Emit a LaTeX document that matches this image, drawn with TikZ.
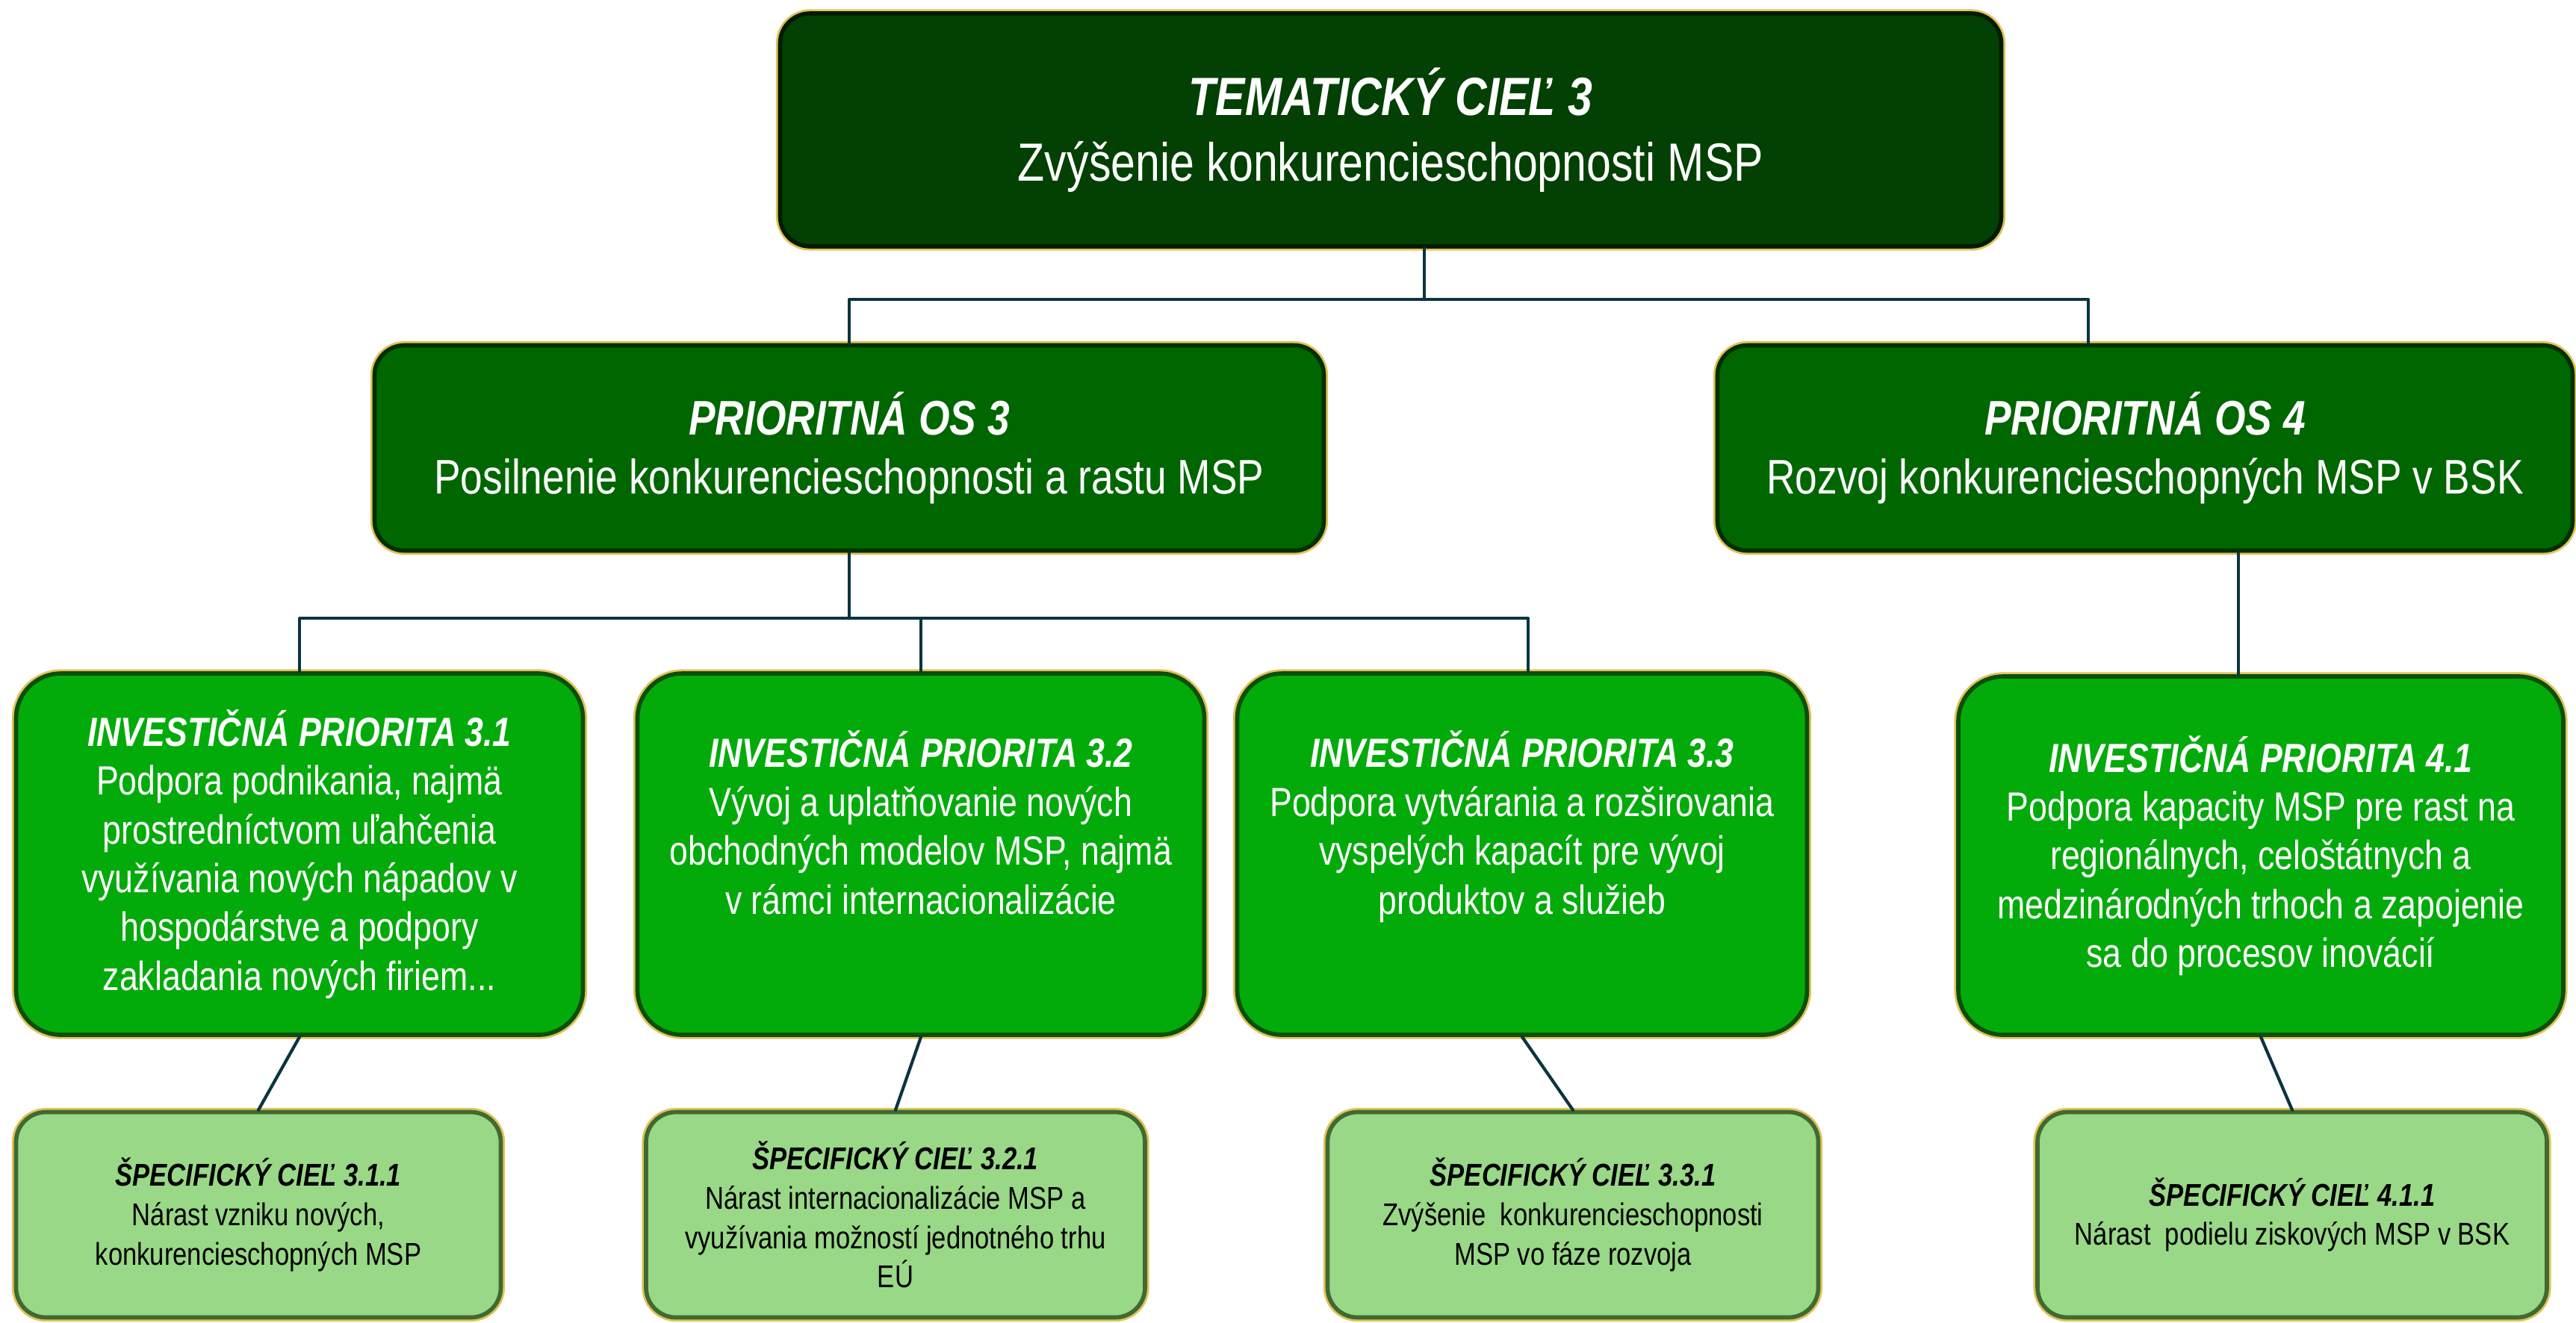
\documentclass[tikz,border=0pt]{standalone}
\usepackage{fontspec}
\setmainfont{Liberation Sans}[FakeStretch=0.82]
\definecolor{temagreen}{HTML}{034003}
\definecolor{temaedge}{HTML}{011C01}
\definecolor{osgreen}{HTML}{006600}
\definecolor{osedge}{HTML}{003000}
\definecolor{ipgreen}{HTML}{02AB0A}
\definecolor{ipedge}{HTML}{0B4F0B}
\definecolor{scgreen}{HTML}{99D886}
\definecolor{scedge}{HTML}{3F6A30}
\definecolor{glow}{HTML}{E2C25A}
\definecolor{linkcol}{HTML}{0B3540}
\begin{document}
\begin{tikzpicture}[line join=round, line cap=round,
  box/.style={rounded corners=4mm, align=center, inner sep=0pt, line width=1.6pt,
    preaction={draw=glow, line width=3.2pt}},
  tema/.style={box, fill=temagreen, draw=temaedge, text=white, minimum width=16.35cm,
    minimum height=3.12cm, font=\fontsize{20.5}{25}\selectfont},
  os/.style={box, fill=osgreen, draw=osedge, text=white, minimum height=2.75cm,
    font=\fontsize{18.5}{22.5}\selectfont},
  ip/.style={box, rounded corners=6mm, fill=ipgreen, draw=ipedge, text=white,
    minimum height=4.84cm, font=\fontsize{15.5}{18.6}\selectfont},
  sc/.style={box, fill=scgreen, draw=scedge, text=black, minimum height=2.75cm,
    font=\fontsize{12}{15}\selectfont},
  link/.style={draw=linkcol, line width=1.2pt}]
\useasboundingbox (0,0) rectangle (34.49,-17.71);
% tematicky ciel
\node[tema] (tema) at (18.62,-1.74) {{\bfseries\itshape TEMATICKÝ CIEĽ 3}\\Zvýšenie konkurencieschopnosti MSP};
% prioritne osi
\node[os, minimum width=12.71cm] (po3) at (11.37,-6.00) {{\bfseries\itshape PRIORITNÁ OS 3}\\Posilnenie konkurencieschopnosti a rastu MSP};
\node[os, minimum width=11.45cm] (po4) at (28.72,-6.00) {{\bfseries\itshape PRIORITNÁ OS 4}\\Rozvoj konkurencieschopných MSP v BSK};
% investicne priority
\node[ip, minimum width=7.59cm] (ip31) at (4.01,-11.44) {{\bfseries\itshape INVESTIČNÁ PRIORITA 3.1}\\Podpora podnikania, najmä\\prostredníctvom uľahčenia\\využívania nových nápadov v\\hospodárstve a podpory\\zakladania nových firiem...};
\node[ip, minimum width=7.59cm] (ip32) at (12.33,-11.44) {{\bfseries\itshape INVESTIČNÁ PRIORITA 3.2}\\Vývoj a uplatňovanie nových\\obchodných modelov MSP, najmä\\v rámci internacionalizácie\\\strut};
\node[ip, minimum width=7.63cm] (ip33) at (20.38,-11.44) {{\bfseries\itshape INVESTIČNÁ PRIORITA 3.3}\\Podpora vytvárania a rozširovania\\vyspelých kapacít pre vývoj\\produktov a služieb\\\strut};
\node[ip, minimum width=8.10cm, minimum height=4.80cm] (ip41) at (30.27,-11.46) {{\bfseries\itshape INVESTIČNÁ PRIORITA 4.1}\\Podpora kapacity MSP pre rast na\\regionálnych, celoštátnych a\\medzinárodných trhoch a zapojenie\\sa do procesov inovácií};
% specificke ciele
\node[sc, minimum width=6.49cm] (sc311) at (3.46,-16.27) {{\bfseries\itshape ŠPECIFICKÝ CIEĽ 3.1.1}\\Nárast vzniku nových,\\konkurencieschopných MSP};
\node[sc, minimum width=6.68cm] (sc321) at (11.99,-16.27) {{\bfseries\itshape ŠPECIFICKÝ CIEĽ 3.2.1}\\Nárast internacionalizácie MSP a\\využívania možností jednotného trhu\\EÚ};
\node[sc, minimum width=6.57cm] (sc331) at (21.06,-16.27) {{\bfseries\itshape ŠPECIFICKÝ CIEĽ 3.3.1}\\Zvýšenie\ \ konkurencieschopnosti\\MSP vo fáze rozvoja};
\node[sc, minimum width=6.82cm] (sc411) at (30.69,-16.27) {{\bfseries\itshape ŠPECIFICKÝ CIEĽ 4.1.1}\\Nárast\ \ podielu ziskových MSP v BSK};
% spojnice
\draw[link] ([xshift=4.5mm]tema.south) -- ++(0,-0.68) coordinate (bus1);
\draw[link] (po3.north) |- (bus1) -| ([xshift=-7.6mm]po4.north);
\draw[link] (po3.south) -- ++(0,-0.88) coordinate (bus2);
\draw[link] (ip31.north) |- (bus2) -| ([xshift=0.8mm]ip33.north);
\draw[link] (ip32.north) -- (ip32.north |- bus2);
\coordinate (d4) at ([xshift=12.5mm]po4.south);
\draw[link] (d4) -- (d4 |- ip41.north);
\foreach \a/\b in {ip31/sc311, ip32/sc321, ip33/sc331, ip41/sc411}
  \draw[link] (\a.south) -- (\b.north);
\end{tikzpicture}
\end{document}
